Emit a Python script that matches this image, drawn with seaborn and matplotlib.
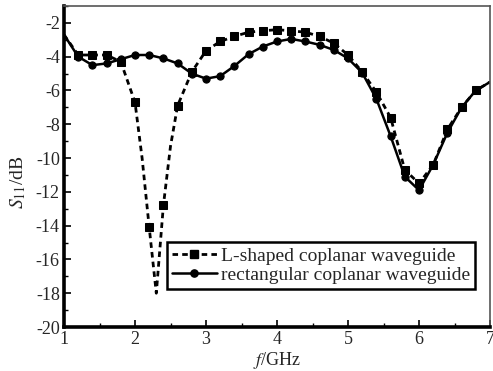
import matplotlib
matplotlib.use("Agg")
import matplotlib.pyplot as plt
import seaborn as sns
import pandas as pd
from matplotlib.lines import Line2D
from matplotlib.ticker import MultipleLocator

sns.set_theme(style="ticks")
plt.rcParams['font.family'] = ['Liberation Serif', 'DejaVu Serif']
plt.rcParams['mathtext.fontset'] = 'stix'
plt.rcParams['axes.unicode_minus'] = False

# L-shaped coplanar waveguide (dashed, squares)
freq_L = [1.0, 1.2, 1.4, 1.6, 1.8, 2.0, 2.1, 2.2, 2.3, 2.4, 2.5, 2.6, 2.8, 3.0, 3.2, 3.4,
          3.6, 3.8, 4.0, 4.2, 4.4, 4.6, 4.8, 5.0, 5.2, 5.4, 5.6, 5.8, 6.0, 6.2, 6.4,
          6.6, 6.8, 7.0]
s11_L = [-2.7, -3.9, -3.9, -3.9, -4.3, -6.7, -10.0, -14.1, -18.0, -12.8, -9.3, -6.9, -4.9, -3.65, -3.1, -2.8,
         -2.55, -2.47, -2.4, -2.47, -2.55, -2.8, -3.2, -3.9, -4.9, -6.1, -7.6, -10.7, -11.5, -10.4, -8.3,
         -7.0, -6.0, -5.5]
mark_L = [1, 2, 3, 4, 5, 7, 9, 11, 12, 13, 14, 15, 16, 17, 18, 19, 20, 21, 22, 23,
          24, 25, 26, 27, 28, 29, 30, 31, 32]

# rectangular coplanar waveguide (solid, circles)
freq_R = [1.0, 1.2, 1.4, 1.6, 1.8, 2.0, 2.2, 2.4, 2.6, 2.8, 3.0, 3.2, 3.4,
          3.6, 3.8, 4.0, 4.2, 4.4, 4.6, 4.8, 5.0, 5.2, 5.4, 5.6, 5.8, 6.0, 6.2, 6.4,
          6.6, 6.8, 7.0]
s11_R = [-2.7, -4.0, -4.5, -4.4, -4.15, -3.9, -3.9, -4.1, -4.4, -5.0, -5.3, -5.15, -4.55,
         -3.85, -3.4, -3.1, -2.95, -3.1, -3.3, -3.6, -4.1, -4.95, -6.5, -8.7, -11.1, -11.9, -10.4, -8.5,
         -7.0, -6.0, -5.5]

labels = ["L-shaped coplanar waveguide", "rectangular coplanar waveguide"]

DASH = (0, (2.0, 1.5))

fig = plt.figure(figsize=(4.93, 3.71), dpi=100)
ax = fig.add_axes([64 / 493, 44 / 371, 426 / 493, 321 / 371])
ax.set_facecolor('white')
fig.patch.set_facecolor('white')

dfL = pd.DataFrame({"f": freq_L, "s": s11_L})
dfR = pd.DataFrame({"f": freq_R, "s": s11_R})
sns.lineplot(data=dfL, x="f", y="s", ax=ax, color="black", linestyle=DASH,
             linewidth=2.0, marker="s", markersize=5.2, markevery=mark_L,
             markeredgecolor="black", estimator=None, sort=False)
sns.lineplot(data=dfR, x="f", y="s", ax=ax, color="black", linestyle="-",
             linewidth=1.8, marker="o", markersize=5.2, markevery=list(range(1, len(freq_R) - 1)),
             markeredgecolor="black", estimator=None, sort=False)

ax.set_xlim(1, 7)
ax.set_ylim(-20, -1)
ax.xaxis.set_major_locator(MultipleLocator(1))
ax.xaxis.set_minor_locator(MultipleLocator(0.5))
ax.yaxis.set_major_locator(MultipleLocator(2))
ax.yaxis.set_minor_locator(MultipleLocator(1))
ax.tick_params(which='both', direction='in', color='black', labelsize=13)
ax.tick_params(which='major', length=5, width=1.2)
ax.tick_params(which='minor', length=3, width=1.0)
ax.tick_params(axis='x', pad=3)
ax.tick_params(axis='y', pad=3)

for side in ['left', 'bottom']:
    ax.spines[side].set_linewidth(2.6)
    ax.spines[side].set_color('black')
for side in ['top', 'right']:
    ax.spines[side].set_linewidth(1.2)
    ax.spines[side].set_color('#555555')
    ax.spines[side].set_visible(True)

ax.set_xlabel(r'$f$/GHz', fontsize=13)
ax.xaxis.set_label_coords(0.5, -0.072, transform=ax.transAxes)
ax.xaxis.label.set_verticalalignment('top')
ax.set_ylabel(r'$S_{11}$/dB', fontsize=14)
ax.yaxis.set_label_coords(-0.085, 0.45)

handles = [
    Line2D([], [], color='black', linestyle=DASH, linewidth=2.0, marker='s', markersize=5.2),
    Line2D([], [], color='black', linestyle='-', linewidth=1.8, marker='o', markersize=5.2),
]
leg = ax.legend(handles, labels, loc='lower left', bbox_to_anchor=(103 / 426, 38 / 321),
                fontsize=14, numpoints=1, handlelength=2.3, handletextpad=0.25,
                borderpad=0.25, labelspacing=0.1, borderaxespad=0, frameon=True,
                fancybox=False, framealpha=1)
leg.get_frame().set_edgecolor('black')
leg.get_frame().set_linewidth(1.8)

fig.savefig("out.png", dpi=100)
